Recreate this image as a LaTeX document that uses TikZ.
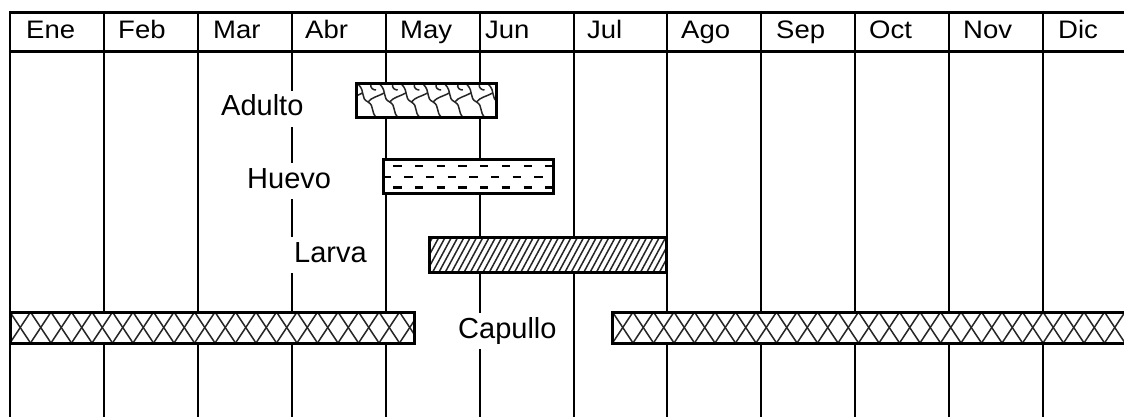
\documentclass[tikz,border=0pt]{standalone}
\usepackage{fontspec}
\setmainfont{Liberation Sans}
\begin{document}
\begin{tikzpicture}[x=1pt,y=-1pt,
  gridline/.style={line width=2.2pt},
  hline/.style={line width=2.6pt},
  month/.style={anchor=base west,inner sep=0pt,font=\fontsize{27.5}{32}\selectfont},
  stage/.style={anchor=base west,fill=white,inner xsep=5pt,inner ysep=4pt,text height=21pt,text depth=7pt,font=\fontsize{29}{34}\selectfont},
  barframe/.style={line width=3pt},
  pat/.style={line width=1.5pt,black!85}]
\useasboundingbox (0,0) rectangle (1124,417);
% grid
\foreach \x in {10,104,198,292,386,480,574,667,761,855,949,1043} \draw[gridline] (\x,11) -- (\x,420);
\draw[hline] (9,12.5) -- (1130,12.5);
\draw[hline] (9,51.5) -- (1130,51.5);
% month names
\node[month] (ene) at (26,38.5) {\scalebox{1}[0.92]{Ene}};
\node[month] (feb) at (118,38.5) {\scalebox{1}[0.92]{Feb}};
\node[month] (mar) at (213,38.5) {\scalebox{1}[0.92]{Mar}};
\node[month] (abr) at (305,38.5) {\scalebox{1}[0.92]{Abr}};
\node[month] (may) at (400,38.5) {\scalebox{1}[0.92]{May}};
\node[month] (jun) at (485,38.5) {\scalebox{1}[0.92]{Jun}};
\node[month] (jul) at (587,38.5) {\scalebox{1}[0.92]{Jul}};
\node[month] (ago) at (681,38.5) {\scalebox{1}[0.92]{Ago}};
\node[month] (sep) at (776,38.5) {\scalebox{1}[0.92]{Sep}};
\node[month] (oct) at (869,38.5) {\scalebox{1}[0.92]{Oct}};
\node[month] (nov) at (963,38.5) {\scalebox{1}[0.92]{Nov}};
\node[month] (dic) at (1058,38.5) {\scalebox{1}[0.92]{Dic}};
% stage labels
\node[stage] (adulto) at (216,116) {Adulto};
\node[stage] (huevo) at (242,188) {Huevo};
\node[stage] (larva) at (289,262) {Larva};
\node[stage] (capullo) at (453,338) {Capullo};
% Adulto bar
\begin{scope}
  \clip (356,84) rectangle (496,118);
  \fill[white] (356,84) rectangle (496,118);
  \foreach \k in {-1,...,7} {
    \pgfmathsetmacro\a{358+21.7*\k}
    \draw[pat] (\a,84) .. controls ({\a+8},92) and ({\a+2},98) .. ({\a+10},102)
      .. controls ({\a+17},106) and ({\a+12},112) .. ({\a+19},118);
    \draw[pat] ({\a+10},102) .. controls ({\a+14},97) and ({\a+19},97) .. ({\a+26},93);
    \draw[pat] ({\a+13},84) .. controls ({\a+12},88) and ({\a+15},90) .. ({\a+18},90);
  }
\end{scope}
\draw[barframe] (356,84) rectangle (496,118);
% Huevo bar
\begin{scope}
  \clip (383,159) rectangle (553,193);
  \fill[white] (383,159) rectangle (553,193);
  \foreach \k in {-1,...,8} {
    \draw[pat,line width=2.2pt,black] ({393.3+21.7*\k},166) -- ++(8.3,0);
    \draw[pat,line width=2.2pt,black] ({404.2+21.7*\k},177) -- ++(8.3,0);
    \draw[pat,line width=2.2pt,black] ({393.3+21.7*\k},187.5) -- ++(8.3,0);
  }
\end{scope}
\draw[barframe] (383,159) rectangle (553,193);
% Larva bar
\begin{scope}
  \clip (429,237) rectangle (666,272);
  \fill[white] (429,237) rectangle (666,272);
  \foreach \k in {0,...,42} \draw[pat,line width=1.5pt] ({407+6.3*\k},273) -- ++(20,-37);
\end{scope}
\draw[barframe] (429,237) rectangle (666,272);
% Capullo bars
\begin{scope}
  \clip (10,312) rectangle (414,343);
  \fill[white] (10,312) rectangle (414,343);
  \foreach \k in {-1,...,20} {
    \draw[pat] ({10+20.5*\k},312) -- ++(20.5,31);
    \draw[pat] ({30.5+20.5*\k},312) -- ++(-20.5,31);
  }
\end{scope}
\draw[barframe] (10,312) rectangle (414,343);
\begin{scope}
  \clip (612.5,312) rectangle (1140,343);
  \fill[white] (612.5,312) rectangle (1140,343);
  \foreach \k in {-1,...,26} {
    \draw[pat] ({612.5+20.5*\k},312) -- ++(20.5,31);
    \draw[pat] ({633+20.5*\k},312) -- ++(-20.5,31);
  }
\end{scope}
\draw[barframe] (612.5,312) rectangle (1140,343);
\end{tikzpicture}
\end{document}
